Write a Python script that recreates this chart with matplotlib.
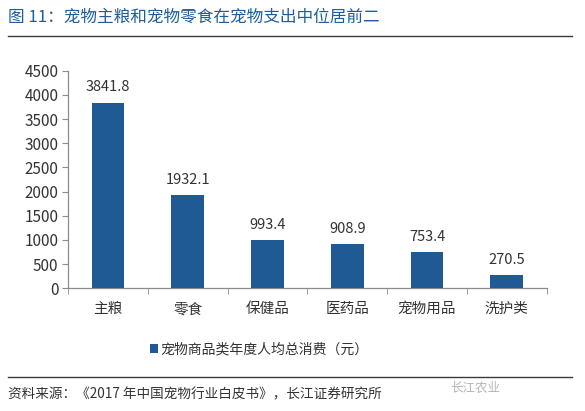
import matplotlib
matplotlib.use('Agg')
import matplotlib.pyplot as plt
import numpy as np
from matplotlib.lines import Line2D
from matplotlib.patches import Patch

plt.rcParams['font.family'] = ['Noto Sans CJK SC', 'DejaVu Sans']

categories = ['主粮', '零食', '保健品', '医药品', '宠物用品', '洗护类']
values = [3841.8, 1932.1, 993.4, 908.9, 753.4, 270.5]
value_labels = ['3841.8', '1932.1', '993.4', '908.9', '753.4', '270.5']
yticks = [0, 500, 1000, 1500, 2000, 2500, 3000, 3500, 4000, 4500]

bar_color = '#1F5A94'
axis_color = '#8C8C8C'
text_color = '#333333'

fig = plt.figure(figsize=(5.85, 4.11), dpi=100)
ax = fig.add_axes([0.1162, 0.2985, 0.8183, 0.5295])

x = np.arange(len(categories))
ax.bar(x, values, width=0.41, color=bar_color, zorder=3)
for xi, v, lab in zip(x, values, value_labels):
    ax.text(xi, v + 170, lab, ha='center', va='bottom', fontsize=10.5, color=text_color)

ax.set_xlim(-0.5, len(categories) - 0.5)
ax.set_ylim(0, 4500)
ax.set_yticks(yticks)
ax.set_yticklabels([str(t) for t in yticks], fontsize=11, color=text_color)
ax.set_xticks(x)
ax.set_xticklabels(categories, fontsize=10.5, color=text_color)
ax.set_xticks(np.arange(-0.5, len(categories)), minor=True)
ax.tick_params(axis='x', which='major', length=0, pad=10)
ax.tick_params(axis='x', which='minor', length=4, color=axis_color, direction='out')
ax.tick_params(axis='y', length=4, color=axis_color, pad=3)

for s in ['top', 'right']:
    ax.spines[s].set_visible(False)
for s in ['left', 'bottom']:
    ax.spines[s].set_color(axis_color)
    ax.spines[s].set_linewidth(0.9)

# legend
handle = Patch(facecolor=bar_color, edgecolor='none')
fig.legend([handle], ['宠物商品类年度人均总消费（元）'], loc='center',
           bbox_to_anchor=(0.443, 1 - 349 / 411), frameon=False, fontsize=10,
           handlelength=0.6, handleheight=0.6, handletextpad=0.2,
           labelcolor=text_color)

# title and rules
fig.text(8 / 585, 1 - 17 / 411, '图 11：宠物主粮和宠物零食在宠物支出中位居前二',
         fontsize=12, color='#1F5C99', fontweight='medium', va='center', ha='left')
fig.add_artist(Line2D([8 / 585, 572 / 585], [1 - 36 / 411] * 2, color='#3A3A3A', lw=1.0))
fig.add_artist(Line2D([8 / 585, 572 / 585], [1 - 377 / 411] * 2, color='#3A3A3A', lw=1.0))

fig.text(8 / 585, 1 - 394 / 411, '资料来源：《2017 年中国宠物行业白皮书》，长江证券研究所',
         fontsize=9.8, color=text_color, va='center', ha='left')
fig.text(450 / 585, 1 - 388 / 411, '长江农业', fontsize=9, color='#B5B5B5',
         va='center', ha='left')

fig.savefig('out.png', dpi=100)
